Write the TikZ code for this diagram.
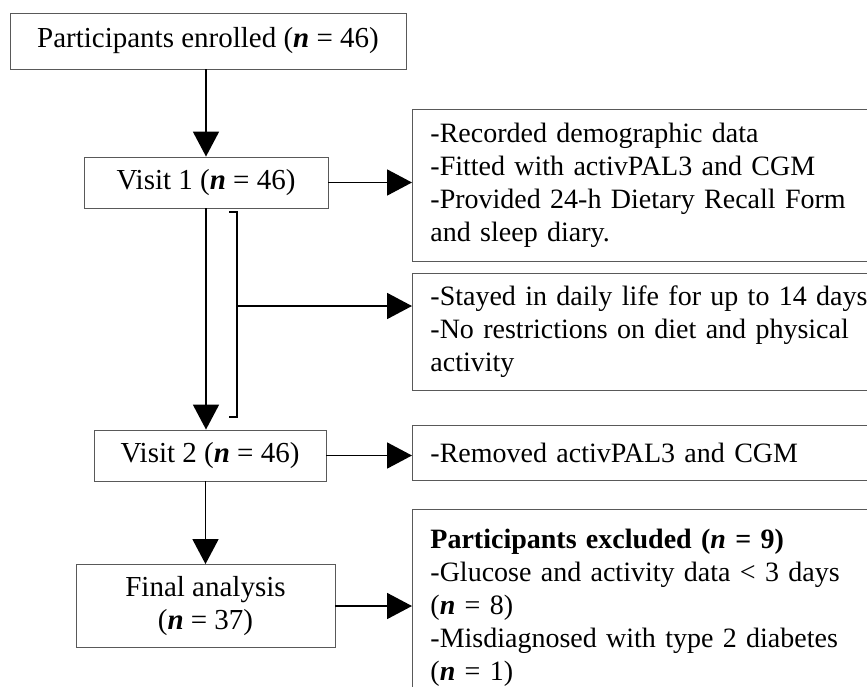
\documentclass[tikz,border=0pt]{standalone}
\usepackage{fontspec}
\setmainfont{Liberation Serif}
\usetikzlibrary{arrows.meta}
\newcommand{\nn}{\textbf{\textit{n}}}
\newcommand{\fullline}[1]{\makebox[430pt][s]{#1}}
\begin{document}
\begin{tikzpicture}[x=1pt, y=-1pt, >={Triangle[length=25pt,width=26pt]},
  font=\fontsize{29}{33}\selectfont,
  stage/.style={draw=black!65, line width=0.9pt, align=center, inner sep=0pt},
  note/.style={draw=black!65, line width=0.9pt, align=left, anchor=north west, text width=450pt, inner xsep=18pt, font=\fontsize{28}{33}\selectfont},
  flow/.style={->, line width=1.8pt}]
\useasboundingbox (0,0) rectangle (867,686);
\clip (0,0) rectangle (867,686);
\node[stage, minimum width=396pt, minimum height=56pt] (enrolled) at (208,41) {Participants enrolled (\nn{} = 46)};
\node[stage, minimum width=244pt, minimum height=51pt] (visit1) at (206,182.5) {Visit 1 (\nn{} = 46)};
\node[stage, minimum width=232pt, minimum height=51pt] (visit2) at (210,455.5) {Visit 2 (\nn{} = 46)};
\node[stage, minimum width=259pt, minimum height=83pt] (final) at (205.5,606) {Final analysis\\(\nn{} = 37)};
\node[note, minimum height=152pt, inner ysep=0pt] (setup) at (412,109) {-Recorded demographic data\\-Fitted with activPAL3 and CGM\\\fullline{-Provided 24-h Dietary Recall Form}\\and sleep diary.};
\node[note, minimum height=117pt, inner ysep=0pt] (daily) at (412,273) {-Stayed in daily life for up to 14 days\\\fullline{-No restrictions on diet and physical}\\activity};
\node[note, minimum height=55pt, inner ysep=0pt] (removed) at (412,425) {-Removed activPAL3 and CGM};
\node[note, inner ysep=20pt] (excluded) at (412,509) {\textbf{Participants excluded (\textit{n} = 9)}\\-Glucose and activity data < 3 days\\(\nn{} = 8)\\\fullline{-Misdiagnosed with type 2 diabetes}\\(\nn{} = 1)};
% bracket over the free-living period
\coordinate (brtop) at (237,212);
\coordinate (brbot) at (237,417);
\coordinate (brmid) at (237,306);
\draw[line width=1.8pt] ([xshift=-8pt]brtop) -- (brtop) -- (brbot) -- ([xshift=-8pt]brbot);
\draw[flow] (enrolled.south -| visit1.north) -- (visit1.north);
\draw[flow] (visit1.south) -- (visit1.south |- visit2.north);
\draw[flow] (visit2.south -| final.north) -- (final.north);
\draw[flow] (visit1.east) -- (visit1.east -| setup.west);
\draw[flow] (brmid) -- (brmid -| daily.west);
\draw[flow] (visit2.east) -- (visit2.east -| removed.west);
\draw[flow] (final.east) -- (final.east -| excluded.west);
\end{tikzpicture}
\end{document}
